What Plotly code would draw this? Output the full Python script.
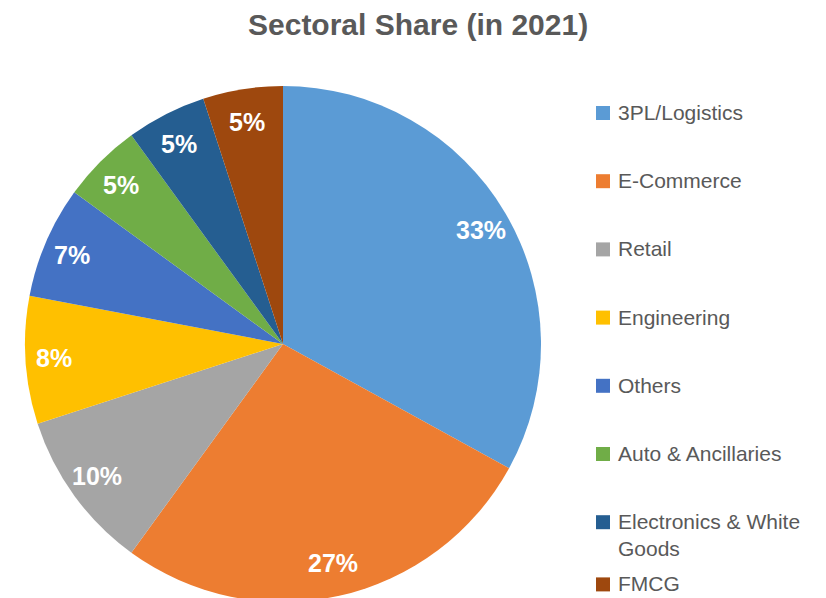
import math
import plotly.graph_objects as go

sectors = ["3PL/Logistics", "E-Commerce", "Retail", "Engineering", "Others",
           "Auto & Ancillaries", "Electronics & White<br>Goods", "FMCG"]
shares = [33, 27, 10, 8, 7, 5, 5, 5]
colors = ["#5B9BD5", "#ED7D31", "#A5A5A5", "#FFC000", "#4472C4",
          "#70AD47", "#255E91", "#9E480E"]
title_text = "Sectoral Share (in 2021)"

W, H = 826, 598
FONT = "Liberation Sans, Arial, sans-serif"
OFF = 8  # page body margin

# pie geometry (figure pixels)
R = 258
CX, CY = 283 - OFF, 344 - OFF


def px(x):
    return x / W


def py(y):
    return 1 - y / H


fig = go.Figure()
fig.add_trace(go.Pie(
    labels=sectors,
    values=shares,
    sort=False,
    direction="clockwise",
    rotation=0,
    marker=dict(colors=colors, line=dict(width=0)),
    textinfo="none",
    domain=dict(x=[px(CX - R), px(CX + R)], y=[py(CY + R), py(CY - R)]),
    showlegend=False,
    hoverinfo="label+percent",
))

annotations = []
shapes = []

# percentage labels, placed from cumulative shares
total = sum(shares)
cum = 0
for v in shares:
    mid = (cum + v / 2) / total * 2 * math.pi
    cum += v
    lx = CX + 0.89 * R * math.sin(mid)
    ly = CY - 0.87 * R * math.cos(mid)
    annotations.append(dict(xref="paper", yref="paper", x=px(lx), y=py(ly),
                            xanchor="center", yanchor="middle",
                            text="<b>%d%%</b>" % round(v / total * 100),
                            showarrow=False,
                            font=dict(family=FONT, size=25, color="white")))

# Manual legend (Excel-style spacing), built from the data lists
y0, step = 113 - OFF, 68.2
for i, (name, col) in enumerate(zip(sectors, colors)):
    yc = y0 + i * step
    if i == len(sectors) - 1:
        yc -= 6
    shapes.append(dict(type="rect", xref="paper", yref="paper",
                       x0=px(596 - OFF), x1=px(610 - OFF),
                       y0=py(yc - 7), y1=py(yc + 7),
                       fillcolor=col, line=dict(width=0)))
    annotations.append(dict(xref="paper", yref="paper", x=px(608),
                            y=py(yc - 14), xanchor="left", yanchor="top",
                            text=name, showarrow=False, align="left",
                            font=dict(family=FONT, size=21, color="#595959")))

annotations.append(dict(xref="paper", yref="paper", x=px(418 - OFF), y=py(25 - OFF),
                        xanchor="center", yanchor="middle",
                        text="<b>" + title_text + "</b>",
                        showarrow=False,
                        font=dict(family=FONT, size=30, color="#595959")))

fig.update_layout(
    width=W, height=H,
    margin=dict(l=0, r=0, t=0, b=0),
    paper_bgcolor="white",
    plot_bgcolor="white",
    shapes=shapes,
    annotations=annotations,
)

fig.write_html("out.html")
